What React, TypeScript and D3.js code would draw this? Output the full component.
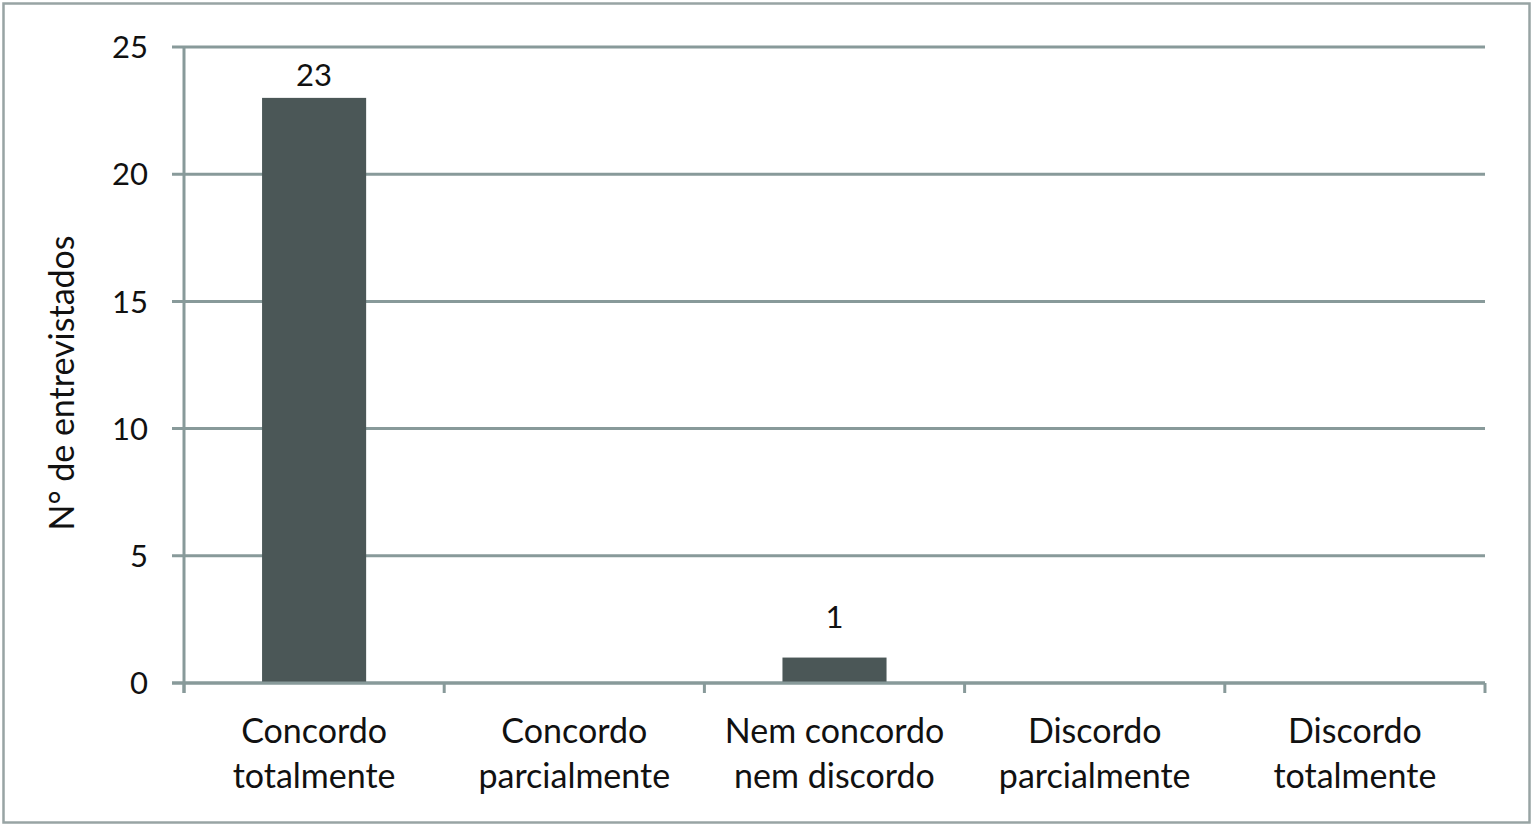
import React, { useEffect, useRef } from 'react';
import * as d3 from 'd3';

const categories = [
  ['Concordo', 'totalmente'],
  ['Concordo', 'parcialmente'],
  ['Nem concordo', 'nem discordo'],
  ['Discordo', 'parcialmente'],
  ['Discordo', 'totalmente'],
];
const values = [23, 0, 1, 0, 0];
const yTicks = [0, 5, 10, 15, 20, 25];
const yLabel = 'N° de entrevistados';

const W = 1536;
const H = 830;
const FONT = 'Lato, "Open Sans", sans-serif';

const App: React.FC = () => {
  const svgRef = useRef<SVGSVGElement>(null);

  useEffect(() => {
    const svg = d3.select(svgRef.current);
    svg.selectAll('*').remove();

    const margin = { top: 47, right: 51, bottom: 147, left: 184 };
    const innerWidth = W - margin.left - margin.right;
    const innerHeight = H - margin.top - margin.bottom;

    const gridColor = '#889a9a';
    const barColor = '#4b5757';

    // outer frame
    svg.append('rect')
      .attr('x', 3.5).attr('y', 3.5)
      .attr('width', 1526).attr('height', 819)
      .attr('fill', '#fff')
      .attr('stroke', '#98a4a4')
      .attr('stroke-width', 2.5);

    const x = d3.scaleBand<number>()
      .domain(d3.range(categories.length))
      .range([0, innerWidth])
      .paddingInner(0.6)
      .paddingOuter(0.3);

    const y = d3.scaleLinear()
      .domain([0, 25])
      .range([innerHeight, 0]);

    const g = svg.append('g')
      .attr('transform', `translate(${margin.left},${margin.top})`);

    // gridlines + y ticks
    g.selectAll('.grid')
      .data(yTicks)
      .enter().append('line')
      .attr('x1', -12)
      .attr('x2', innerWidth)
      .attr('y1', d => y(d))
      .attr('y2', d => y(d))
      .attr('stroke', gridColor)
      .attr('stroke-width', 3);

    g.selectAll('.ytick')
      .data(yTicks)
      .enter().append('text')
      .attr('x', -36)
      .attr('y', d => y(d))
      .attr('dy', '0.36em')
      .attr('text-anchor', 'end')
      .style('font-family', FONT)
      .style('font-size', '31px')
      .style('fill', '#111')
      .text(d => d);

    // y axis line
    g.append('line')
      .attr('x1', 0).attr('x2', 0)
      .attr('y1', 0).attr('y2', innerHeight + 10)
      .attr('stroke', gridColor)
      .attr('stroke-width', 3);

    // x category boundary ticks
    const step = innerWidth / categories.length;
    g.selectAll('.xtick')
      .data(d3.range(categories.length + 1))
      .enter().append('line')
      .attr('x1', d => d * step)
      .attr('x2', d => d * step)
      .attr('y1', innerHeight)
      .attr('y2', innerHeight + 10)
      .attr('stroke', gridColor)
      .attr('stroke-width', 3);

    // bars
    g.selectAll('.bar')
      .data(values)
      .enter().append('rect')
      .attr('x', (d, i) => x(i) as number)
      .attr('y', d => y(d))
      .attr('width', x.bandwidth())
      .attr('height', d => innerHeight - y(d))
      .attr('fill', barColor);

    // redraw baseline over bars
    g.append('line')
      .attr('x1', -12).attr('x2', innerWidth)
      .attr('y1', innerHeight).attr('y2', innerHeight)
      .attr('stroke', gridColor)
      .attr('stroke-width', 3);

    // data labels
    g.selectAll('.label')
      .data(values.map((v, i) => ({ v, i })).filter(d => d.v > 0))
      .enter().append('text')
      .attr('x', d => (x(d.i) as number) + x.bandwidth() / 2)
      .attr('y', d => Math.max(y(d.v) - 30, 39))
      .attr('text-anchor', 'middle')
      .style('font-family', FONT)
      .style('font-size', '31px')
      .style('fill', '#111')
      .text(d => d.v);

    // category labels
    const cat = g.selectAll('.cat')
      .data(categories)
      .enter().append('text')
      .attr('text-anchor', 'middle')
      .style('font-family', FONT)
      .style('font-size', '34px')
      .style('fill', '#111');
    cat.each(function (d, i) {
      const t = d3.select(this);
      d.forEach((line, j) => {
        t.append('tspan')
          .attr('x', (x(i) as number) + x.bandwidth() / 2)
          .attr('y', innerHeight + 60 + j * 45)
          .text(line);
      });
    });

    // y axis title
    svg.append('text')
      .attr('transform', `translate(74, ${margin.top + innerHeight / 2 + 18}) rotate(-90)`)
      .attr('text-anchor', 'middle')
      .style('font-family', FONT)
      .style('font-size', '34px')
      .style('fill', '#111')
      .text(yLabel);
  }, []);

  return (
    <div style={{ position: 'fixed', left: 0, top: 0 }}>
      <svg ref={svgRef} width={W} height={H} style={{ display: 'block' }}></svg>
    </div>
  );
};

export default App;
